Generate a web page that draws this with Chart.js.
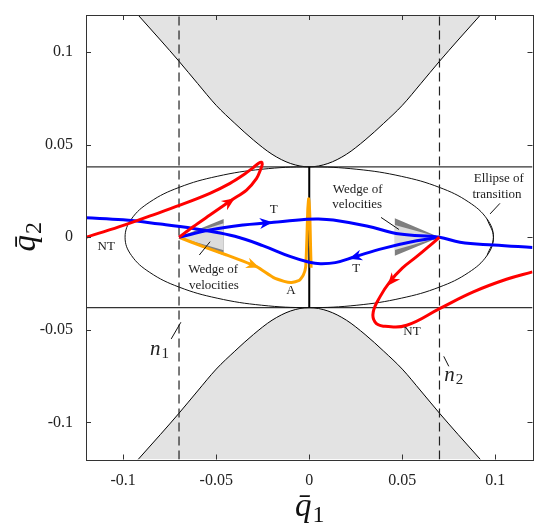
<!DOCTYPE html>
<html><head><meta charset="utf-8">
<script src="https://cdn.jsdelivr.net/npm/chart.js@4.4.0/dist/chart.umd.min.js"></script>
<style>html,body{margin:0;padding:0;background:#fff}canvas{display:block}</style>
</head><body>
<canvas id="c" width="554" height="526"></canvas>
<script>
// ---------- axes ----------
const xRange = [-0.12, 0.12];
const yRange = [-0.12, 0.12];
const xTicks = [-0.1, -0.05, 0, 0.05, 0.1];
const xTickLabels = ['-0.1', '-0.05', '0', '0.05', '0.1'];
const yTicks = [-0.1, -0.05, 0, 0.05, 0.1];
const yTickLabels = ['-0.1', '-0.05', '0', '0.05', '0.1'];

// ---------- forbidden-region boundary ----------
const boundaryX      = [-0.092,-0.08,-0.07,-0.06,-0.05,-0.04,-0.03,-0.02,-0.01,0,0.01,0.02,0.03,0.04,0.05,0.06,0.07,0.08,0.092];
const boundaryUpperY = [0.12,0.1065,0.095,0.083,0.0712,0.0615,0.0525,0.0448,0.0398,0.038,0.0398,0.0448,0.0525,0.0615,0.0712,0.083,0.095,0.1065,0.12];
const boundaryLowerY = [-0.12,-0.1065,-0.095,-0.083,-0.0712,-0.0615,-0.0525,-0.0448,-0.0398,-0.038,-0.0398,-0.0448,-0.0525,-0.0615,-0.0712,-0.083,-0.095,-0.1065,-0.12];

// transition band and sections
const bandY = [0.038, -0.038];
const sectionX = [-0.07, 0.07];
const centerLineY = [-0.038, 0.038];

// ellipse of transition
const ellipseX = [0.0956,0.099,0.0956,0.0857,0.070,0.0495,0.0256,0,-0.0256,-0.0495,-0.070,-0.0857,-0.0956,-0.099,-0.0956,-0.0857,-0.070,-0.0495,-0.0256,0,0.0256,0.0495,0.070,0.0857,0.0956,0.099,0.0956];
const ellipseY = [-0.0098,0,0.0098,0.019,0.0269,0.0329,0.0367,0.038,0.0367,0.0329,0.0269,0.019,0.0098,0,-0.0098,-0.019,-0.0269,-0.0329,-0.0367,-0.038,-0.0367,-0.0329,-0.0269,-0.019,-0.0098,0,0.0098];

// wedges of velocities
const wedgeLeftOuterX  = [-0.07,-0.046,-0.046,-0.07];
const wedgeLeftOuterY  = [0,0.0098,-0.0097,0];
const wedgeLeftInnerX  = [-0.07,-0.046,-0.046,-0.07];
const wedgeLeftInnerY  = [0,0.0075,-0.007,0];
const wedgeRightOuterX = [0.07,0.046,0.046,0.07];
const wedgeRightOuterY = [0,0.0103,-0.01,0];
const wedgeRightInnerX = [0.07,0.046,0.046,0.07];
const wedgeRightInnerY = [0,0.0066,-0.0069,0];

// trajectories
const blueLowerX = [-0.12,-0.1,-0.08,-0.0695,-0.055,-0.04,-0.025,-0.01,0,0.006,0.014,0.0246,0.0398,0.0577,0.07];
const blueLowerY = [0.0105,0.0094,0.0071,0.0058,0.0035,0.0005,-0.0045,-0.0105,-0.0135,-0.0143,-0.0137,-0.0105,-0.006,-0.0019,0];
const blueUpperX = [-0.07,-0.0534,-0.0355,-0.0229,-0.0014,0.005,0.0129,0.0309,0.0488,0.07,0.081,0.099,0.12];
const blueUpperY = [0,0.0039,0.0066,0.0077,0.0097,0.0099,0.0093,0.0061,0.0017,0,-0.0027,-0.0042,-0.0055];
const orangeX = [-0.07,-0.057,-0.0444,-0.0283,-0.0194,-0.0135,-0.0095,-0.0055,-0.0032,-0.0019,-0.0013,-0.0008,-0.0003,0.0003,0.0007,0.0010];
const orangeY = [0,-0.0051,-0.0096,-0.0159,-0.0217,-0.0238,-0.0244,-0.0234,-0.0205,-0.0159,-0.0015,0.0147,0.0208,0.012,-0.005,-0.0165];
const redLeftX = [-0.12,-0.107,-0.096,-0.0855,-0.0695,-0.0534,-0.0426,-0.0355,-0.0301,-0.0272,-0.0257,-0.0253,-0.0262,-0.0283,-0.0337,-0.0417,-0.0534,-0.0624,-0.07];
const redLeftY = [0,0.0041,0.0078,0.0115,0.0173,0.0237,0.0291,0.0336,0.0376,0.0400,0.0405,0.0392,0.0365,0.0318,0.0255,0.0201,0.012,0.0057,0];
const redRightX = [0.07,0.064,0.0577,0.05,0.0434,0.038,0.0344,0.0353,0.0398,0.0524,0.0703,0.0882,0.106,0.12];
const redRightY = [0,-0.0052,-0.0105,-0.0167,-0.024,-0.0322,-0.0403,-0.0457,-0.048,-0.0475,-0.0384,-0.0295,-0.0227,-0.0187];

// arrowheads: tip and a point behind it (data coords)
const arrowTipX  = [-0.0405, -0.0202, -0.0274, 0.0219, 0.0425];
const arrowTipY  = [0.0207, 0.0081, -0.0162, -0.0114, -0.0258];
const arrowFromX = [-0.0534, -0.035, -0.0444, 0.0398, 0.05];
const arrowFromY = [0.012, 0.0066, -0.0096, -0.006, -0.0167];
const arrowColors = ['#ff0000', '#0000ff', '#ffa500', '#0000ff', '#ff0000'];

// annotations
const noteTexts = ['NT','T','T','A','NT','Wedge of','velocities','Wedge of','velocities','Ellipse of','transition'];
const noteX = [-0.1091,-0.0191,0.0253,-0.0098,0.0552,-0.0516,-0.0513,0.026,0.0258,0.1019,0.1009];
const noteY = [-0.0051,0.0147,-0.0171,-0.0286,-0.051,-0.0177,-0.0263,0.0258,0.0174,0.0318,0.0231];
const pointerX1 = [-0.0591,0.0386,0.1025,-0.069,0.0723];
const pointerY1 = [-0.0096,0.0107,0.0183,-0.0459,-0.0643];
const pointerX2 = [-0.0533,0.0482,0.0972,-0.0742,0.075];
const pointerY2 = [-0.0024,0.0042,0.0126,-0.0549,-0.0697];
const sectionNames = ['n', 'n'];
const sectionSubs = ['1', '2'];
const sectionLabelX = [-0.0856, 0.0726];
const sectionLabelY = [-0.0634, -0.0778];
const xTitle = ['q\u0304', '1'];
const yTitle = ['q\u0304', '2'];

// ---------- build ----------
const pts = (xs, ys) => xs.map((x, i) => ({x, y: ys[i]}));
const base = {showLine: true, pointRadius: 0, clip: 0, fill: false};
const datasets = [
  {...base, data: pts(boundaryX, boundaryUpperY), borderColor: '#000', borderWidth: 1, backgroundColor: '#e3e3e3', fill: 'end', cubicInterpolationMode: 'monotone', order: 20},
  {...base, data: pts(boundaryX, boundaryLowerY), borderColor: '#000', borderWidth: 1, backgroundColor: '#e3e3e3', fill: 'start', cubicInterpolationMode: 'monotone', order: 20},
  {...base, data: pts(xRange, [bandY[0], bandY[0]]), borderColor: '#333', borderWidth: 1.2, order: 19},
  {...base, data: pts(xRange, [bandY[1], bandY[1]]), borderColor: '#333', borderWidth: 1.2, order: 19},
  {...base, data: pts(ellipseX, ellipseY), borderColor: '#111', borderWidth: 1, tension: 0.4, order: 18},
  {...base, data: pts([sectionX[0], sectionX[0]], yRange), borderColor: '#222', borderWidth: 1.2, borderDash: [9, 5], order: 17},
  {...base, data: pts([sectionX[1], sectionX[1]], yRange), borderColor: '#222', borderWidth: 1.2, borderDash: [9, 5], order: 17},
  {...base, data: pts(wedgeLeftOuterX, wedgeLeftOuterY), borderWidth: 0, backgroundColor: '#7f7f7f', fill: 'shape', order: 16},
  {...base, data: pts(wedgeLeftInnerX, wedgeLeftInnerY), borderWidth: 0, backgroundColor: '#dcdcdc', fill: 'shape', order: 15},
  {...base, data: pts(wedgeRightOuterX, wedgeRightOuterY), borderWidth: 0, backgroundColor: '#7f7f7f', fill: 'shape', order: 16},
  {...base, data: pts(wedgeRightInnerX, wedgeRightInnerY), borderWidth: 0, backgroundColor: '#dcdcdc', fill: 'shape', order: 15},
  {...base, data: pts([0, 0], centerLineY), borderColor: '#000', borderWidth: 2, order: 14},
  {...base, data: pts(orangeX, orangeY), borderColor: '#ffa500', borderWidth: 3, tension: 0.15, order: 3},
  {...base, data: pts(blueLowerX, blueLowerY), borderColor: '#0000ff', borderWidth: 3, tension: 0.4, order: 2},
  {...base, data: pts(blueUpperX, blueUpperY), borderColor: '#0000ff', borderWidth: 3, tension: 0.4, order: 2},
  {...base, data: pts(redLeftX, redLeftY), borderColor: '#ff0000', borderWidth: 3, tension: 0.35, order: 1},
  {...base, data: pts(redRightX, redRightY), borderColor: '#ff0000', borderWidth: 3, tension: 0.4, order: 1},
];

const SERIF = '"Liberation Serif", "Times New Roman", serif';

function drawSubTitle(ctx, main, sub, mainSize, subSize, subDrop) {
  ctx.font = `italic ${mainSize}px ${SERIF}`;
  const w1 = ctx.measureText(main).width;
  ctx.font = `${subSize}px ${SERIF}`;
  const w2 = ctx.measureText(sub).width;
  const start = -(w1 + w2) / 2;
  ctx.textAlign = 'left';
  ctx.textBaseline = 'alphabetic';
  ctx.font = `italic ${mainSize}px ${SERIF}`;
  ctx.fillText(main, start, 0);
  ctx.font = `${subSize}px ${SERIF}`;
  ctx.fillText(sub, start + w1 + 1, subDrop);
}

const decor = {
  id: 'decor',
  afterDatasetsDraw(chart) {
    const ctx = chart.ctx, xs = chart.scales.x, ys = chart.scales.y, a = chart.chartArea;
    const P = (x, y) => ({x: xs.getPixelForValue(x), y: ys.getPixelForValue(y)});
    ctx.save();
    ctx.beginPath(); ctx.rect(a.left, a.top, a.right - a.left, a.bottom - a.top); ctx.clip();
    // arrowheads
    arrowTipX.forEach((tx, i) => {
      const t = P(tx, arrowTipY[i]), f = P(arrowFromX[i], arrowFromY[i]);
      const ang = Math.atan2(t.y - f.y, t.x - f.x);
      ctx.save(); ctx.translate(t.x, t.y); ctx.rotate(ang);
      ctx.beginPath(); ctx.moveTo(1, 0); ctx.lineTo(-12, -5.5); ctx.lineTo(-8, 0); ctx.lineTo(-12, 5.5); ctx.closePath();
      ctx.fillStyle = arrowColors[i]; ctx.fill();
      ctx.restore();
    });
    // pointer lines
    ctx.strokeStyle = '#111'; ctx.lineWidth = 1;
    pointerX1.forEach((x1, i) => {
      const p1 = P(x1, pointerY1[i]), p2 = P(pointerX2[i], pointerY2[i]);
      ctx.beginPath(); ctx.moveTo(p1.x, p1.y); ctx.lineTo(p2.x, p2.y); ctx.stroke();
    });
    // annotation texts
    ctx.fillStyle = '#222'; ctx.font = `13px ${SERIF}`; ctx.textAlign = 'center'; ctx.textBaseline = 'middle';
    noteTexts.forEach((t, i) => { const p = P(noteX[i], noteY[i]); ctx.fillText(t, p.x, p.y); });
    // section labels n1, n2
    ctx.textAlign = 'left'; ctx.textBaseline = 'alphabetic';
    sectionNames.forEach((n, i) => {
      const p = P(sectionLabelX[i], sectionLabelY[i]);
      ctx.font = `italic 21px ${SERIF}`; ctx.fillText(n, p.x, p.y);
      const w = ctx.measureText(n).width;
      ctx.font = `15px ${SERIF}`; ctx.fillText(sectionSubs[i], p.x + w + 1, p.y + 3);
    });
    ctx.restore();
  },
  afterDraw(chart) {
    const ctx = chart.ctx, xs = chart.scales.x, ys = chart.scales.y, a = chart.chartArea;
    ctx.save();
    ctx.strokeStyle = '#333'; ctx.lineWidth = 1;
    ctx.strokeRect(Math.round(a.left) + 0.5, Math.round(a.top) + 0.5, Math.round(a.right - a.left), Math.round(a.bottom - a.top));
    xTicks.forEach(v => {
      const x = Math.round(xs.getPixelForValue(v)) + 0.5;
      ctx.beginPath(); ctx.moveTo(x, a.bottom); ctx.lineTo(x, a.bottom - 5); ctx.moveTo(x, a.top); ctx.lineTo(x, a.top + 5); ctx.stroke();
    });
    yTicks.forEach(v => {
      const y = Math.round(ys.getPixelForValue(v)) + 0.5;
      ctx.beginPath(); ctx.moveTo(a.left, y); ctx.lineTo(a.left + 5, y); ctx.moveTo(a.right, y); ctx.lineTo(a.right - 5, y); ctx.stroke();
    });
    // axis titles
    ctx.fillStyle = '#111';
    ctx.save(); ctx.translate((a.left + a.right) / 2, a.bottom + 56);
    drawSubTitle(ctx, xTitle[0], xTitle[1], 33, 24, 6); ctx.restore();
    ctx.save(); ctx.translate(a.left - 51, (a.top + a.bottom) / 2); ctx.rotate(-Math.PI / 2);
    drawSubTitle(ctx, yTitle[0], yTitle[1], 33, 24, 6); ctx.restore();
    ctx.restore();
  }
};

new Chart(document.getElementById('c'), {
  type: 'scatter',
  data: {datasets},
  options: {
    responsive: false, animation: false, devicePixelRatio: 1,
    layout: {padding: {top: 15, right: 21.5, bottom: 0, left: 0}},
    plugins: {legend: {display: false}, tooltip: {enabled: false}},
    scales: {
      x: {type: 'linear', min: xRange[0], max: xRange[1],
        grid: {display: false}, border: {display: false},
        afterBuildTicks: s => { s.ticks = xTicks.map(v => ({value: v})); },
        afterFit: s => { s.height = 66.5; },
        ticks: {font: {family: SERIF, size: 16}, color: '#222', padding: 4, maxRotation: 0,
          callback: v => { const i = xTicks.indexOf(v); return i >= 0 ? xTickLabels[i] : ''; }}},
      y: {type: 'linear', min: yRange[0], max: yRange[1],
        grid: {display: false}, border: {display: false},
        afterBuildTicks: s => { s.ticks = yTicks.map(v => ({value: v})); },
        afterFit: s => { s.width = 86; },
        ticks: {font: {family: SERIF, size: 16}, color: '#222', padding: 5,
          callback: v => { const i = yTicks.indexOf(v); return i >= 0 ? yTickLabels[i] : ''; }}}
    }
  },
  plugins: [decor]
});
</script>
</body></html>
